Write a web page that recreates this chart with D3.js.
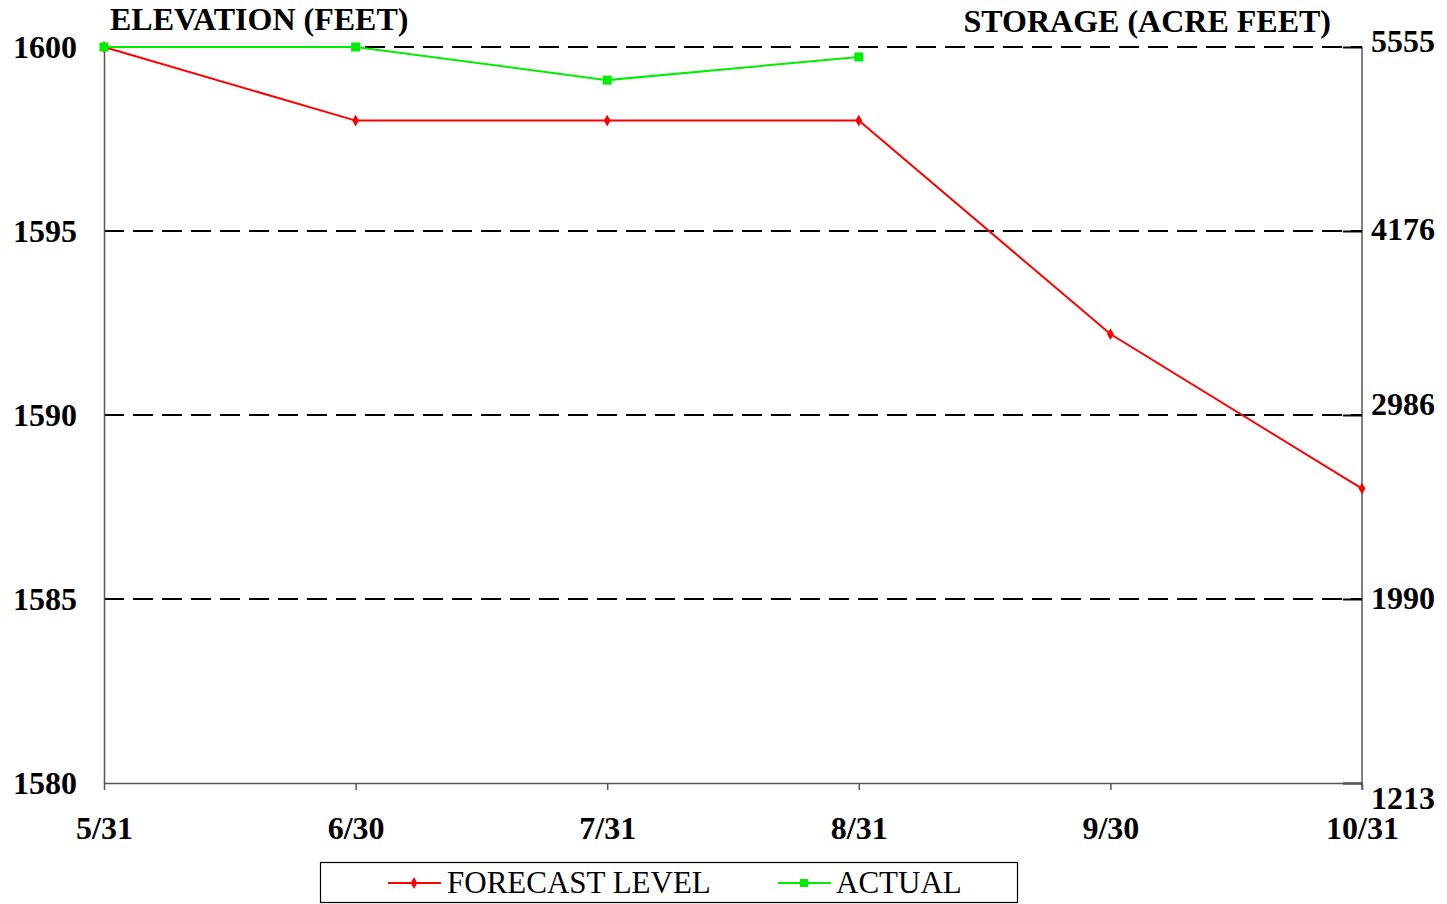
<!DOCTYPE html>
<html><head><meta charset="utf-8">
<script src="https://cdn.jsdelivr.net/npm/d3@7"></script>
<style>body{margin:0;background:#fff}svg{display:block}</style>
</head><body><svg id="c" width="1447" height="904"></svg>
<script>
const categories = ["5/31","6/30","7/31","8/31","9/30","10/31"];
const forecastLevel = [1600, 1598, 1598, 1598, 1592.2, 1588];
const actual = [1600, 1600, 1599.1, 1599.73];
const elevationTicks = [1600, 1595, 1590, 1585, 1580];
const storageLabels = ["5555", "4176", "2986", "1990", "1213"];
const seriesNames = ["FORECAST LEVEL", "ACTUAL"];

const svg = d3.select("#c");
const L = 104, R = 1362, T = 47, B = 783;
const x = d3.scalePoint().domain(categories).range([L, R]).padding(0);
const y = d3.scaleLinear().domain([1580, 1600]).range([B, T]);
const font = "'Liberation Serif','Times New Roman',serif";
const FS = 32;

// gridlines
svg.append("g").selectAll("line").data(elevationTicks.filter(d => d !== 1580)).join("line")
  .attr("x1", L).attr("x2", R).attr("y1", d => y(d)).attr("y2", d => y(d))
  .attr("stroke", "#000").attr("stroke-width", 2).attr("stroke-dasharray", "20,9");

// left axis
const gl = svg.append("g").attr("transform", `translate(${L},0)`)
  .call(d3.axisLeft(y).tickValues(elevationTicks).tickSize(0).tickPadding(27).tickFormat(d3.format("d")));
gl.select(".domain").attr("stroke", "#555").attr("stroke-width", 1.5);
gl.selectAll("text").attr("font-family", font).attr("font-weight", "bold").attr("font-size", FS).attr("fill", "#000");

// right axis
const storageScale = d3.scaleOrdinal().domain(elevationTicks).range(storageLabels);
const labelDy = [-7, -3, -12, -2, 14];
const gr = svg.append("g").attr("transform", `translate(${R},0)`)
  .call(d3.axisRight(y).tickValues(elevationTicks).tickSizeInner(-19).tickSizeOuter(0).tickPadding(10)
    .tickFormat(d => storageScale(d)));
gr.select(".domain").attr("stroke", "#555").attr("stroke-width", 1.5).attr("d", `M0,${T}V${B + 7}`);
gr.selectAll(".tick line").attr("stroke", "#000").attr("stroke-width", 2);
gr.selectAll("text").attr("font-family", font).attr("font-weight", "bold").attr("font-size", FS).attr("fill", "#000")
  .attr("x", 9).attr("dy", (d, i) => (labelDy[i] + 11) + "px");

// bottom axis
const gb = svg.append("g").attr("transform", `translate(0,${B})`)
  .call(d3.axisBottom(x).tickSizeInner(7).tickSizeOuter(0).tickPadding(26));
gb.select(".domain").attr("stroke", "#555").attr("stroke-width", 1.5);
gb.selectAll(".tick line").attr("stroke", "#555").attr("stroke-width", 1.5);
gb.selectAll("text").attr("font-family", font).attr("font-weight", "bold").attr("font-size", FS).attr("fill", "#000");

// titles
svg.append("text").attr("x", 110).attr("y", 30).text("ELEVATION (FEET)")
  .attr("font-family", font).attr("font-weight", "bold").attr("font-size", FS);
svg.append("text").attr("x", 1331).attr("y", 32).attr("text-anchor", "end").text("STORAGE (ACRE FEET)")
  .attr("font-family", font).attr("font-weight", "bold").attr("font-size", FS);

// lines
const line = d3.line().x((d, i) => x(categories[i])).y(d => y(d));
svg.append("path").datum(forecastLevel).attr("d", line).attr("fill", "none").attr("stroke", "#ff0000").attr("stroke-width", 2);
svg.append("path").datum(actual).attr("d", line).attr("fill", "none").attr("stroke", "#00ee00").attr("stroke-width", 2);
const diamond = d3.symbol().type(d3.symbolDiamond).size(40);
svg.append("g").selectAll("path").data(forecastLevel).join("path")
  .attr("d", diamond).attr("transform", (d, i) => `translate(${x(categories[i])},${y(d)})`).attr("fill", "#ff0000");
svg.append("g").selectAll("rect").data(actual).join("rect")
  .attr("x", (d, i) => x(categories[i]) - 4.5).attr("y", d => y(d) - 4.5).attr("width", 9).attr("height", 9).attr("fill", "#00ee00");

// legend
const lg = svg.append("g");
lg.append("rect").attr("x", 320.5).attr("y", 862.5).attr("width", 697).attr("height", 40)
  .attr("fill", "#fff").attr("stroke", "#000").attr("stroke-width", 1.2);
const lx = [388, 778], lt = [447, 836];
const colors = ["#ff0000", "#00ee00"];
seriesNames.forEach((n, i) => {
  lg.append("line").attr("x1", lx[i]).attr("x2", lx[i] + 53).attr("y1", 883).attr("y2", 883).attr("stroke", colors[i]).attr("stroke-width", 2);
  if (i === 0) lg.append("path").attr("d", diamond).attr("transform", `translate(${lx[i] + 26},883)`).attr("fill", colors[i]);
  else lg.append("rect").attr("x", lx[i] + 22).attr("y", 879).attr("width", 8).attr("height", 8).attr("fill", colors[i]);
  lg.append("text").attr("x", lt[i]).attr("y", 893).text(n).attr("font-family", font).attr("font-size", 31);
});
</script></body></html>
